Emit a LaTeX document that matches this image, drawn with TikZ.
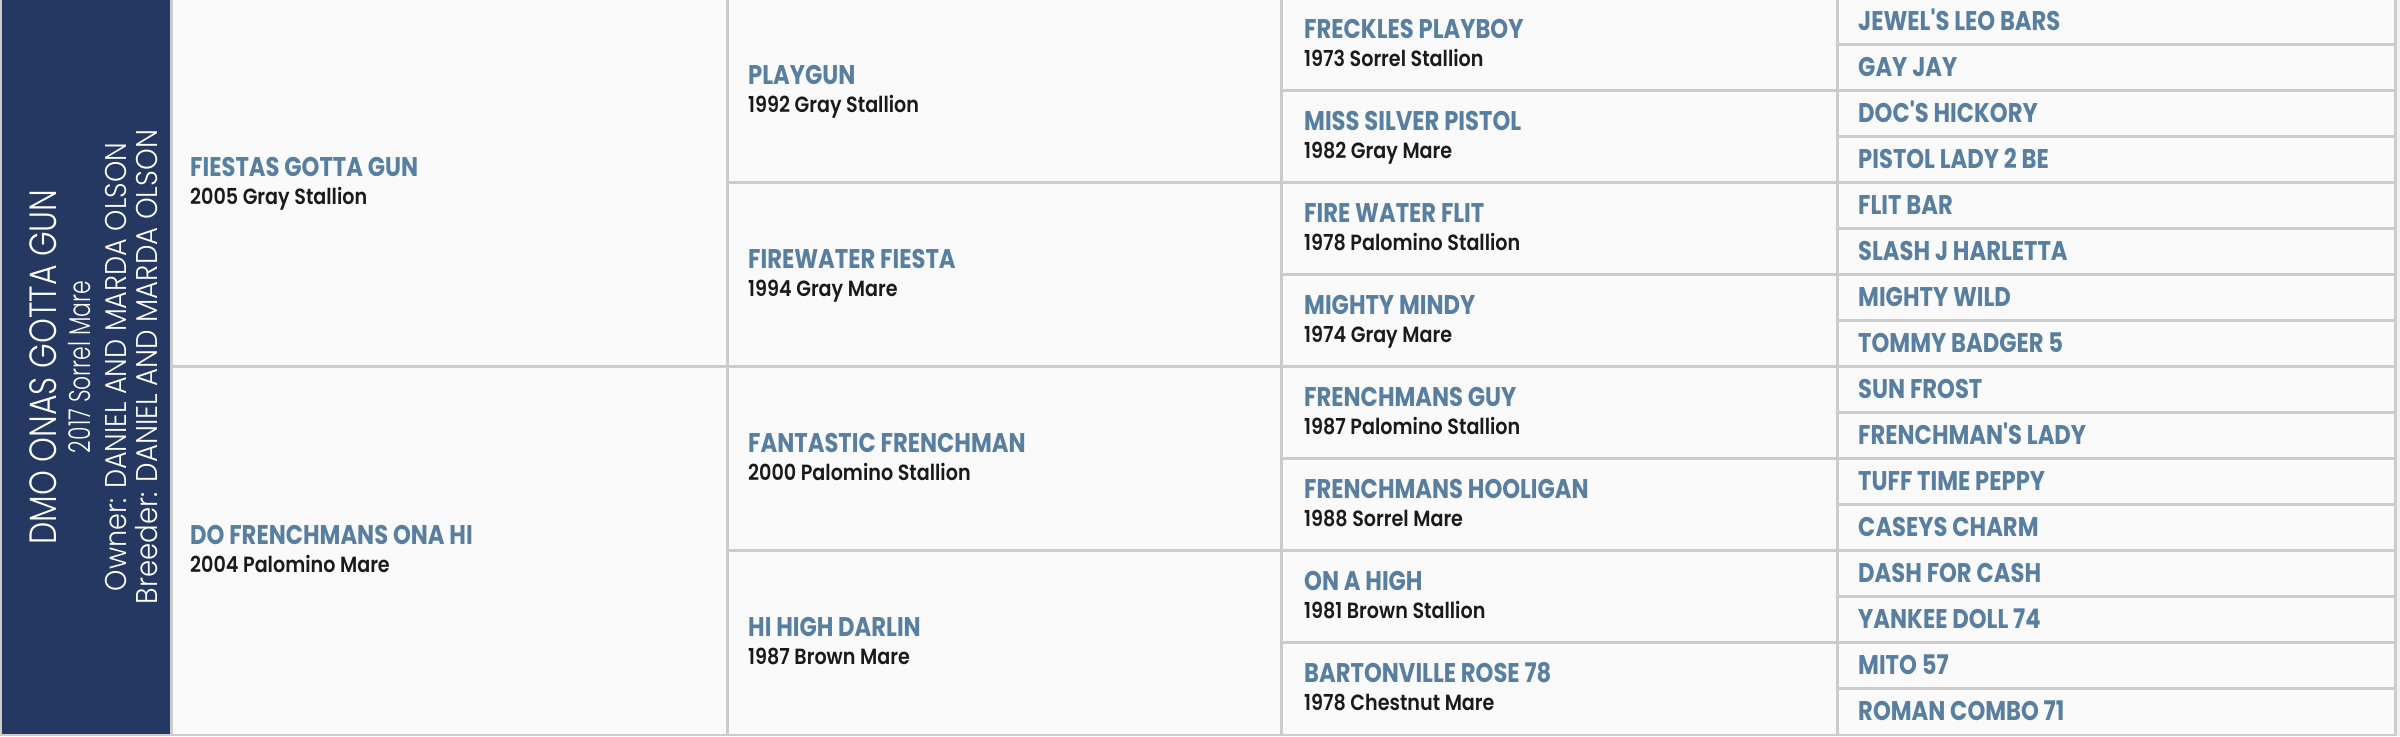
\documentclass[tikz,border=0pt]{standalone}
\usepackage{fontspec}
\usepackage{graphicx}
\IfFontExistsTF{Poppins Bold}
  {\newfontfamily\namefont{Poppins Bold}[FakeStretch=0.84,Ligatures=TeXOff]}
  {\newfontfamily\namefont{Poppins}[FakeStretch=0.84,Ligatures=TeXOff,FakeBold=1.5]}
\IfFontExistsTF{Poppins SemiBold}
  {\newfontfamily\detailfont{Poppins SemiBold}[FakeStretch=0.87]}
  {\newfontfamily\detailfont{Poppins}[FakeStretch=0.87]}
\IfFontExistsTF{Poppins Light}
  {\newfontfamily\panelfont{Poppins Light}}
  {\newfontfamily\panelfont{Poppins}}
\newcommand\fitx[2]{\setbox0=\hbox{#2}\pgfmathsetmacro\fitfac{#1/\wd0}\scalebox{\fitfac}[1]{\box0}}
\definecolor{panelblue}{RGB}{37,56,97}
\definecolor{nameblue}{RGB}{88,127,160}
\definecolor{detailblack}{RGB}{26,26,26}
\definecolor{linegray}{RGB}{204,204,204}
\definecolor{cellbg}{RGB}{250,250,250}
\definecolor{outerbg}{RGB}{242,242,242}
\tikzset{
  namelbl/.style={anchor=base west, inner sep=0pt, text=nameblue,
    font=\namefont\fontsize{27}{29}\selectfont},
  detaillbl/.style={anchor=base west, inner sep=0pt, text=detailblack,
    font=\detailfont\fontsize{22}{24}\selectfont},
  paneltitle/.style={rotate=90, anchor=base, inner sep=0pt, text=white,
    font=\panelfont\fontsize{38}{40}\selectfont},
  panelsub/.style={rotate=90, anchor=base, inner sep=0pt, text=white,
    font=\panelfont\fontsize{30}{32}\selectfont},
  gridline/.style={draw=linegray, line width=3pt},
}
\begin{document}
\begin{tikzpicture}[x=1pt,y=-1pt]
\useasboundingbox (0,0) rectangle (2400,736);
\fill[outerbg] (0,0) rectangle (2400,736);
\fill[cellbg] (172,0) rectangle (2396,734);
\fill[linegray] (0,0) rectangle (2,736);
\fill[panelblue] (2,0) rectangle (170,735);
% vertical grid lines
\foreach \vx in {171.5,727.5,1281.5,1837.5,2395.5}
  \draw[gridline] (\vx,0) -- (\vx,736);
% horizontal grid lines
\foreach \k in {1,...,15}{
  \pgfmathsetmacro\xs{ifthenelse(mod(\k,8)==0,170,ifthenelse(mod(\k,4)==0,726,ifthenelse(mod(\k,2)==0,1280,1836)))}
  \draw[gridline] (\xs,{46*\k-2}) -- (2397,{46*\k-2});
}
\draw[draw=linegray, line width=2.5pt] (0,735) -- (2397,735);
% panel texts
\node[paneltitle] (horse) at (56,367) {\fitx{355}{DMO ONAS GOTTA GUN}};
\node[panelsub] (horsedesc) at (90,367) {\fitx{172}{2017 Sorrel Mare}};
\node[panelsub] (owner) at (126,367) {\fitx{448}{Owner: DANIEL AND MARDA OLSON}};
\node[panelsub] (breeder) at (157,367) {\fitx{474}{Breeder: DANIEL AND MARDA OLSON}};
% generation 1
\foreach \nm/\dt [count=\i from 0] in {FIESTAS GOTTA GUN/2005 Gray Stallion, DO FRENCHMANS ONA HI/2004 Palomino Mare}{
  \node[namelbl] (ga\i) at (190,{184*(2*\i+1)-8}) {\nm};
  \node[detaillbl] (gad\i) at (190,{184*(2*\i+1)+20}) {\dt};
}
% generation 2
\foreach \nm/\dt [count=\i from 0] in {PLAYGUN/1992 Gray Stallion, FIREWATER FIESTA/1994 Gray Mare, FANTASTIC FRENCHMAN/2000 Palomino Stallion, HI HIGH DARLIN/1987 Brown Mare}{
  \node[namelbl] (gb\i) at (748,{92*(2*\i+1)-8}) {\nm};
  \node[detaillbl] (gbd\i) at (748,{92*(2*\i+1)+20}) {\dt};
}
% generation 3
\foreach \nm/\dt [count=\i from 0] in {FRECKLES PLAYBOY/1973 Sorrel Stallion, MISS SILVER PISTOL/1982 Gray Mare, FIRE WATER FLIT/1978 Palomino Stallion, MIGHTY MINDY/1974 Gray Mare, FRENCHMANS GUY/1987 Palomino Stallion, FRENCHMANS HOOLIGAN/1988 Sorrel Mare, ON A HIGH/1981 Brown Stallion, BARTONVILLE ROSE 78/1978 Chestnut Mare}{
  \node[namelbl] (gc\i) at (1304,{46*(2*\i+1)-8}) {\nm};
  \node[detaillbl] (gcd\i) at (1304,{46*(2*\i+1)+20}) {\dt};
}
% generation 4
\foreach \nm [count=\i from 0] in {JEWEL'S LEO BARS, GAY JAY, DOC'S HICKORY, PISTOL LADY 2 BE, FLIT BAR, SLASH J HARLETTA, MIGHTY WILD, TOMMY BADGER 5, SUN FROST, FRENCHMAN'S LADY, TUFF TIME PEPPY, CASEYS CHARM, DASH FOR CASH, YANKEE DOLL 74, MITO 57, ROMAN COMBO 71}{
  \node[namelbl] (gd\i) at (1858,{23*(2*\i+1)+7.5}) {\nm};
}
\end{tikzpicture}
\end{document}
